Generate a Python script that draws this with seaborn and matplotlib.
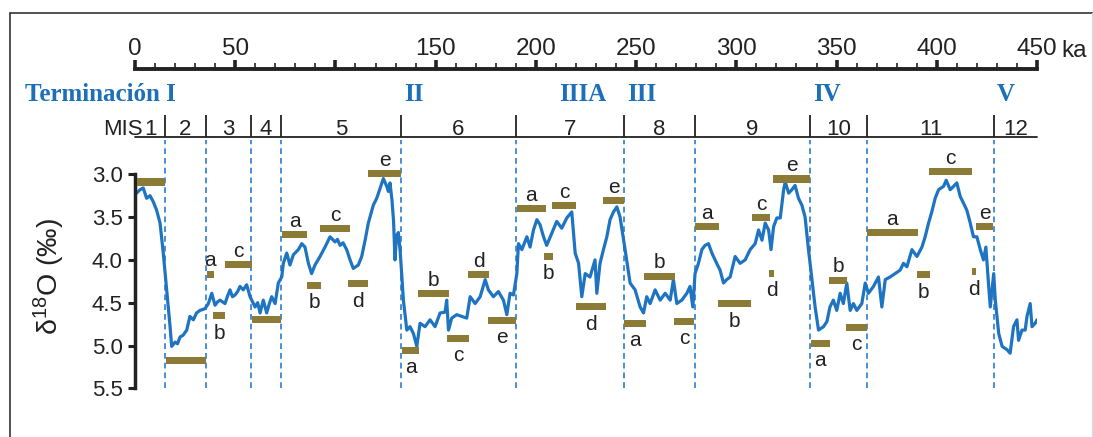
import numpy as np
import matplotlib
matplotlib.use("Agg")
import matplotlib.pyplot as plt
import matplotlib.transforms as mtransforms
from matplotlib.lines import Line2D
from matplotlib.ticker import MultipleLocator, FixedLocator
import seaborn as sns

# ---------------- data ----------------
age_ka = [0.8, 2.5, 4.1, 5.8, 7.5, 9.1, 10.8, 12.5, 14.1, 15.8, 17.5, 18.3, 20.0, 21.2, 22.5,
          24.0, 25.8, 27.4, 29.1, 30.7, 32.4, 34.9, 36.6, 38.3, 39.9, 41.2, 42.4, 44.9, 46.2,
          47.4, 48.6, 49.9, 51.2, 52.4, 54.0, 55.7, 57.4, 59.9, 61.2, 62.4, 64.0, 65.7, 66.9,
          68.2, 69.9, 71.5, 73.2, 74.0, 75.7, 77.3, 79.0, 81.5, 83.2, 84.8, 86.5, 88.1, 89.8,
          92.3, 94.8, 97.3, 99.8, 101.0, 102.3, 103.8, 105.6, 107.3, 108.9, 111.4, 113.1,
          114.8, 116.4, 118.9, 120.6, 122.3, 123.9, 125.6, 126.4, 127.2, 128.2, 129.0, 129.7,
          130.5, 131.4, 132.3, 133.9, 135.6, 137.2, 138.9, 140.6, 142.2, 144.7, 147.2, 149.7,
          152.2, 154.7, 155.5, 156.4, 158.0, 160.5, 163.0, 165.5, 167.2, 169.7, 172.2, 174.7,
          176.3, 178.8, 181.3, 183.8, 185.5, 187.1, 188.8, 190.5, 191.3, 193.0, 195.5, 197.1,
          198.8, 200.5, 202.1, 203.8, 205.4, 207.9, 210.4, 212.9, 215.4, 217.9, 219.6, 221.3,
          222.9, 224.6, 227.0, 229.5, 230.4, 232.0, 233.7, 235.4, 237.0, 238.7, 240.4, 242.0,
          244.5, 247.0, 249.5, 252.0, 253.7, 255.3, 257.0, 259.5, 262.0, 264.5, 267.0, 268.6,
          270.3, 272.8, 275.3, 276.9, 278.3, 279.4, 281.1, 282.8, 284.4, 286.1, 287.8, 290.2,
          291.9, 293.6, 295.2, 296.9, 299.4, 301.9, 304.4, 306.9, 309.4, 311.1, 312.8, 314.4,
          316.1, 317.3, 318.6, 320.2, 321.9, 323.6, 324.4, 326.1, 327.7, 329.3, 331.0, 332.7,
          334.3, 336.0, 337.7, 339.3, 341.0, 343.5, 345.2, 346.7, 348.4, 350.1, 351.8, 353.4,
          355.1, 356.8, 358.4, 360.1, 362.6, 364.3, 365.9, 368.4, 370.9, 372.6, 374.3, 376.7,
          379.2, 381.7, 383.4, 385.1, 387.6, 390.1, 392.6, 394.2, 395.9, 397.5, 399.2, 400.9,
          403.4, 404.7, 406.7, 408.4, 410.0, 411.7, 413.4, 415.0, 416.7, 418.3, 420.0, 421.7,
          423.3, 424.5, 425.9, 426.7, 428.4, 429.2, 430.9, 432.6, 435.1, 436.6, 438.3, 440.0,
          440.8, 442.5, 444.1, 445.0, 446.6, 447.5, 449.1, 450.0]
d18o = [3.22, 3.18, 3.16, 3.28, 3.25, 3.32, 3.42, 3.57, 3.92, 4.35, 4.78, 5.01, 4.96, 4.98, 4.90,
        4.88, 4.82, 4.66, 4.70, 4.62, 4.59, 4.57, 4.51, 4.39, 4.53, 4.49, 4.47, 4.51, 4.42,
        4.35, 4.43, 4.41, 4.37, 4.31, 4.35, 4.29, 4.43, 4.55, 4.50, 4.62, 4.47, 4.62, 4.52,
        4.43, 4.51, 4.27, 4.20, 4.04, 3.92, 4.06, 3.94, 3.88, 3.81, 3.85, 4.04, 4.16, 4.06,
        3.96, 3.85, 3.73, 3.79, 3.76, 3.83, 3.80, 3.88, 4.00, 4.10, 4.06, 3.96,
        3.77, 3.57, 3.36, 3.28, 3.16, 3.05, 3.14, 3.20, 3.10, 3.30, 3.55, 4.00,
        3.72, 3.68, 3.90, 4.47, 4.82, 4.78, 4.86, 5.01, 4.74, 4.78, 4.70, 4.78,
        4.62, 4.61, 4.47, 4.82, 4.68, 4.64, 4.66, 4.68, 4.43, 4.51, 4.43, 4.23,
        4.35, 4.43, 4.37, 4.47, 4.64, 4.39, 4.41, 4.16, 3.81, 3.88, 3.73, 3.85,
        3.65, 3.53, 3.59, 3.73, 3.83, 3.69, 3.55, 3.63, 3.51, 3.44, 3.92, 4.04,
        4.43, 4.16, 4.20, 4.00, 4.39, 4.04, 3.88, 3.73, 3.53, 3.44, 3.38, 3.50,
        3.88, 4.27, 4.35, 4.55, 4.62, 4.43, 4.51, 4.35, 4.47, 4.39, 4.47, 4.23,
        4.51, 4.47, 4.39, 4.31, 4.55, 4.16, 4.04, 3.88, 3.83, 3.81, 3.92, 4.04,
        4.12, 4.27, 4.23, 4.20, 3.96, 4.04, 4.00, 3.88, 3.81, 3.65, 3.77, 3.57,
        3.65, 3.88, 3.61, 3.51, 3.51, 3.18, 3.09, 3.22, 3.18, 3.13, 3.28, 3.36,
        3.50, 3.88, 4.23, 4.55, 4.82, 4.78, 4.72, 4.55, 4.47, 4.59, 4.39, 4.51,
        4.27, 4.59, 4.51, 4.59, 4.51, 4.27, 4.39, 4.31, 4.20, 4.55, 4.23, 4.20,
        4.16, 4.12, 4.04, 4.08, 3.88, 3.96, 3.85, 3.73, 3.57, 3.44, 3.28, 3.18,
        3.14, 3.07, 3.18, 3.14, 3.10, 3.26, 3.34, 3.42, 3.57, 3.73, 3.73, 3.88,
        4.00, 3.85, 4.31, 4.55, 4.16, 4.47, 4.86, 5.01, 5.05, 5.09, 4.78, 4.70,
        4.94, 4.82, 4.82, 4.66, 4.51, 4.78, 4.74, 4.70]

# Marine isotope stage boundaries (ka) and stage numbers
mis_boundaries = [15.0, 35.4, 58.0, 72.7, 132.6, 190.0, 244.0, 279.4, 336.8, 365.4, 428.3]
mis_stages = list(range(1, 13))

# Glacial terminations
termination_names = ["Terminación I", "II", "IIIA", "III", "IV", "V"]
termination_ka = [15.0, 132.6, 210.0, 244.0, 336.8, 428.3]

# Substage reference levels (start ka, end ka, d18O, letter, stage)
bar_start = [1.0, 15.3, 35.8, 39.1, 44.9, 58.2, 73.2, 86.0, 92.3, 106.4, 116.4,
             133.1, 141.4, 155.5, 166.3, 176.3, 190.5, 204.2, 208.2, 219.9, 233.4,
             244.2, 254.1, 269.1, 279.4, 291.1, 307.7, 316.5, 318.2,
             337.3, 346.3, 354.7, 365.1, 390.2, 396.2, 417.5, 419.6]
bar_end = [15.0, 35.3, 39.4, 45.1, 58.2, 72.9, 86.0, 92.6, 107.3, 116.4, 132.6,
           141.9, 156.8, 166.7, 176.8, 190.1, 204.9, 208.7, 219.9, 234.9, 244.0,
           254.8, 269.5, 279.1, 291.4, 307.2, 316.9, 318.6, 336.8,
           346.5, 355.1, 365.1, 390.4, 396.4, 417.5, 419.6, 428.0]
bar_d18o = [3.09, 5.17, 4.165, 4.655, 4.05, 4.70, 3.705, 4.30, 3.63, 4.28, 2.99,
            5.06, 4.39, 4.92, 4.17, 4.71, 3.405, 3.96, 3.37, 4.55, 3.31,
            4.74, 4.19, 4.72, 3.61, 4.515, 3.51, 4.16, 3.055,
            4.975, 4.235, 4.79, 3.68, 4.175, 2.97, 4.14, 3.61]
bar_label = ["", "", "a", "b", "c", "", "a", "b", "c", "d", "e",
             "a", "b", "c", "d", "e", "a", "b", "c", "d", "e",
             "a", "b", "c", "a", "b", "c", "d", "e",
             "a", "b", "c", "a", "b", "c", "d", "e"]
bar_stage = [1, 2, 3, 3, 3, 4, 5, 5, 5, 5, 5,
             6, 6, 6, 6, 6, 7, 7, 7, 7, 7,
             8, 8, 8, 9, 9, 9, 9, 9,
             10, 10, 10, 11, 11, 11, 11, 11]

age_ticks = [0, 50, 100, 150, 200, 250, 300, 350, 400, 450]
age_tick_labels = ["0", "50", "", "150", "200", "250", "300", "350", "400", "450"]
d18o_ticks = [3.0, 3.5, 4.0, 4.5, 5.0, 5.5]

# ---------------- style ----------------
sns.set_style("white")
plt.rcParams["font.family"] = ["Liberation Sans", "DejaVu Sans"]
plt.rcParams["mathtext.fontset"] = "custom"
plt.rcParams["mathtext.rm"] = "Liberation Sans"
plt.rcParams["mathtext.it"] = "Liberation Sans:italic"
plt.rcParams["mathtext.bf"] = "Liberation Sans:bold"

CURVE = "#1f74c2"
DASH = "#3a87d6"
TERM = "#1d6fb8"
OLIVE = "#8b7b36"
INK = "#222222"
BAR_H = 0.082

W, H = 1093, 437
fig = plt.figure(figsize=(W / 100, H / 100), dpi=100)
fig.patch.set_facecolor("white")


def fx(px):
    return px / W


def fy(py):
    return 1 - py / H


X0, X1 = 135, 1037
AX_TOP, AX_BOT = 140, 392
ax = fig.add_axes([fx(X0), fy(AX_BOT), fx(X1) - fx(X0), (AX_BOT - AX_TOP) / H])
ax.set_facecolor("none")
ax.set_xlim(0, 450)
y_top = 3.0 + (AX_TOP - 174.3) / 85.6
y_bot = 3.0 + (AX_BOT - 174.3) / 85.6
ax.set_ylim(y_bot, y_top)

# stage boundaries
ax.vlines(mis_boundaries, 5.5, y_top, colors=DASH, linestyles=(0, (3.2, 2.2)),
          linewidth=1.3, zorder=1)

# isotope curve
sns.lineplot(x=age_ka, y=d18o, ax=ax, color=CURVE, linewidth=2.3, sort=False,
             estimator=None, zorder=2)

# substage reference bars
widths = np.subtract(bar_end, bar_start)
ax.barh(bar_d18o, widths, left=bar_start, height=BAR_H, color=OLIVE,
        align="center", zorder=3, linewidth=0)

for s, e, d, lab, stg in zip(bar_start, bar_end, bar_d18o, bar_label, bar_stage):
    if not lab:
        continue
    cx = (s + e) / 2
    above = (lab in "ace") == (stg % 2 == 1)
    if above:
        ax.annotate(lab, (cx, d - BAR_H / 2), xytext=(0, 3), textcoords="offset points",
                    ha="center", va="baseline", fontsize=15, color=INK)
    else:
        ax.annotate(lab, (cx, d + BAR_H / 2), xytext=(0, -3), textcoords="offset points",
                    ha="center", va="top", fontsize=15, color=INK)

# left axis
for side in ["top", "right", "bottom"]:
    ax.spines[side].set_visible(False)
ax.spines["left"].set_bounds(3.0, 5.5)
ax.spines["left"].set_linewidth(2.5)
ax.spines["left"].set_color(INK)
ax.set_xticks([])
ax.set_yticks(d18o_ticks)
ax.set_yticklabels([f"{v:.1f}" for v in d18o_ticks])
ax.tick_params(axis="y", left=True, direction="out", length=5, width=2.2,
               pad=4, labelsize=16, colors=INK)
ax.set_xlabel("")
ax.set_ylabel("")

fig.text(fx(49), fy(277), r"δ$^{18}$O (‰)", rotation=90, ha="center", va="center",
         fontsize=20.5, color=INK)

# age scale along the top
ax_top = fig.add_axes([fx(X0), fy(69) - 1e-4, fx(X1) - fx(X0), 1e-4])
ax_top.set_facecolor("none")
ax_top.set_xlim(0, 450)
for side in ["left", "right", "bottom"]:
    ax_top.spines[side].set_visible(False)
ax_top.spines["top"].set_linewidth(2.8)
ax_top.spines["top"].set_color(INK)
ax_top.set_yticks([])
ax_top.xaxis.tick_top()
ax_top.xaxis.set_major_locator(FixedLocator(age_ticks))
ax_top.set_xticklabels(age_tick_labels)
ax_top.xaxis.set_minor_locator(MultipleLocator(10))
ax_top.tick_params(axis="x", which="major", top=True, bottom=False, direction="out",
                   length=6.5, width=2.6, pad=0, labelsize=17.5, colors=INK)
ax_top.tick_params(axis="x", which="minor", top=True, bottom=False, direction="out",
                   length=4, width=1.2, colors=INK)
fig.text(fx(1061), fy(57), "ka", ha="left", va="baseline", fontsize=17.5, color=INK)

# marine isotope stage row
trans = mtransforms.blended_transform_factory(ax.transData, fig.transFigure)
ax.plot([0, 450], [fy(137), fy(137)], transform=trans, color=INK, linewidth=1.3,
        clip_on=False)
ax.vlines(mis_boundaries, fy(137), fy(115), transform=trans, colors=INK,
          linewidth=1.3, clip_on=False)
edges = [0] + mis_boundaries + [450]
for stg, a, b in zip(mis_stages, edges[:-1], edges[1:]):
    ax.text((a + b) / 2, fy(135), str(stg), transform=trans, ha="center",
            va="baseline", fontsize=16, color=INK)
ax.text(4.0, fy(135), "MIS", transform=trans, ha="right", va="baseline",
        fontsize=16, color=INK)

# terminations
for name, t in zip(termination_names, termination_ka):
    if name.startswith("Termin"):
        ax.annotate(name, (t, fy(101)), xycoords=trans, xytext=(8, 0),
                    textcoords="offset points", ha="right", va="baseline",
                    fontsize=18, fontweight="bold", family="Liberation Serif",
                    color=TERM, annotation_clip=False)
    else:
        ax.annotate(name, (t, fy(101)), xycoords=trans, xytext=(2.5, 0),
                    textcoords="offset points", ha="left", va="baseline",
                    fontsize=18, fontweight="bold", family="Liberation Serif",
                    color=TERM, annotation_clip=False)

# outer frame
fig.add_artist(Line2D([fx(9.5), fx(1093)], [fy(13), fy(13)], color="#333333",
                      linewidth=1.2))
fig.add_artist(Line2D([fx(9.5), fx(9.5)], [fy(13), 0], color="#333333", linewidth=1.2))
fig.add_artist(Line2D([fx(1091.5), fx(1091.5)], [fy(13), 0], color="#dddddd",
                      linewidth=1.0))

fig.savefig("out.png", dpi=100, facecolor="white")
